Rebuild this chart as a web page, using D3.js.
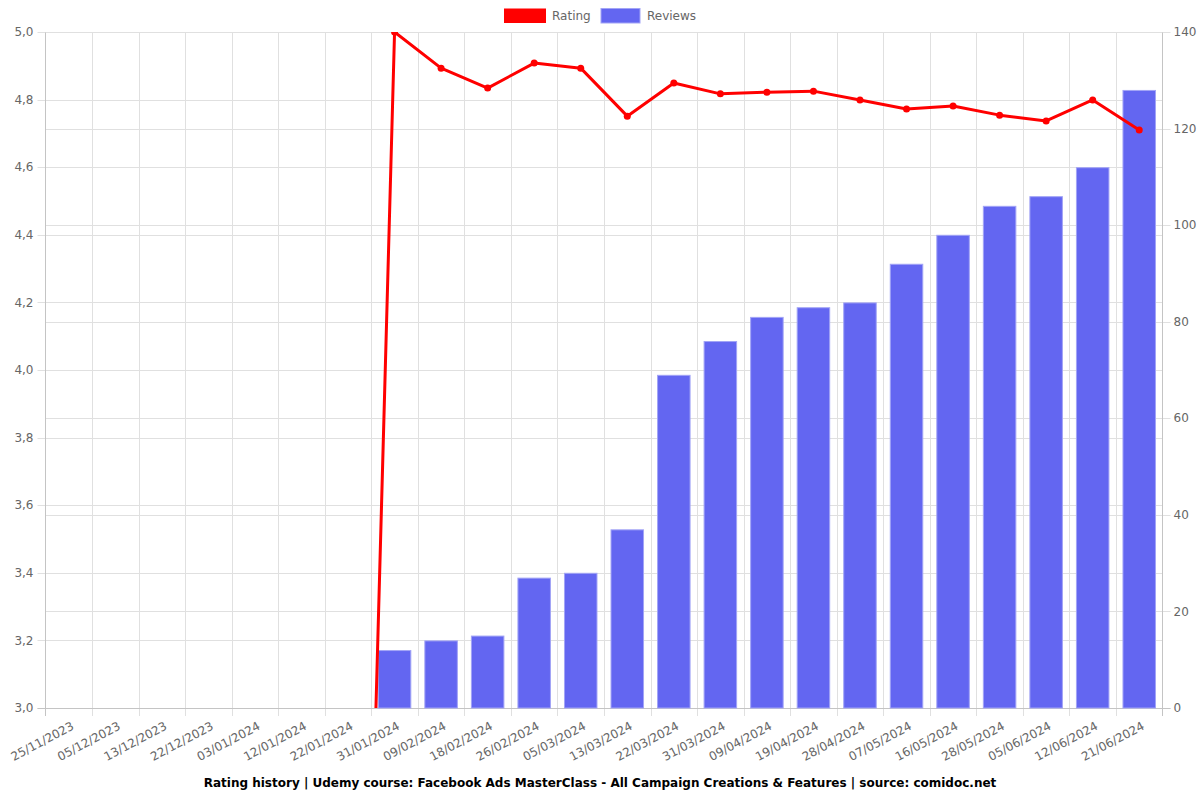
<!DOCTYPE html>
<html>
<head>
<meta charset="utf-8">
<script src="https://cdn.jsdelivr.net/npm/d3@7"></script>
<style>
  html, body { margin: 0; padding: 0; background: #fff; }
  svg { display: block; font-family: "DejaVu Sans", sans-serif; }
</style>
</head>
<body>
<svg id="chart" width="1200" height="800"></svg>
<script>
const categories = ["25/11/2023","05/12/2023","13/12/2023","22/12/2023","03/01/2024","12/01/2024","22/01/2024","31/01/2024","09/02/2024","18/02/2024","26/02/2024","05/03/2024","13/03/2024","22/03/2024","31/03/2024","09/04/2024","19/04/2024","28/04/2024","07/05/2024","16/05/2024","28/05/2024","05/06/2024","12/06/2024","21/06/2024"];
const ratings = [0,0,0,0,0,0,0,5.0,4.893,4.834,4.908,4.893,4.751,4.849,4.817,4.822,4.825,4.799,4.772,4.781,4.754,4.737,4.799,4.710];
const reviews = [0,0,0,0,0,0,0,12,14,15,27,28,37,69,76,81,83,84,92,98,104,106,112,128];
const leftTicks = [3.0,3.2,3.4,3.6,3.8,4.0,4.2,4.4,4.6,4.8,5.0];
const rightTicks = [0,20,40,60,80,100,120,140];
const titleText = "Rating history | Udemy course: Facebook Ads MasterClass - All Campaign Creations & Features | source: comidoc.net";

const svg = d3.select("#chart");
const L = 45.5, R = 1162.5, T = 32, B = 708;
const gridColor = "#e0e0e0", axisColor = "#c4c4c4", textColor = "#666";

const x = d3.scaleBand().domain(categories).range([L, R]).paddingInner(0).paddingOuter(0);
const yL = d3.scaleLinear().domain([3, 5]).range([B, T]);
const yR = d3.scaleLinear().domain([0, 140]).range([B, T]);

svg.append("defs").append("clipPath").attr("id", "plotclip")
  .append("rect").attr("x", L).attr("y", T).attr("width", R - L).attr("height", B - T);

// grid lines
const grid = svg.append("g");
const edges = categories.map(c => x(c)).concat([R]);
grid.selectAll("line.v").data(edges.slice(1, -1)).join("line")
  .attr("x1", d => Math.round(d) + 0.5).attr("x2", d => Math.round(d) + 0.5)
  .attr("y1", T).attr("y2", B + 8)
  .attr("stroke", gridColor);
grid.selectAll("line.hl").data(leftTicks).join("line")
  .attr("x1", L - 8).attr("x2", R)
  .attr("y1", d => Math.round(yL(d)) + 0.5).attr("y2", d => Math.round(yL(d)) + 0.5)
  .attr("stroke", gridColor);
grid.selectAll("line.hr").data(rightTicks).join("line")
  .attr("x1", L).attr("x2", R + 8)
  .attr("y1", d => Math.round(yR(d)) + 0.5).attr("y2", d => Math.round(yR(d)) + 0.5)
  .attr("stroke", gridColor);

// axes lines
svg.append("line").attr("x1", L).attr("x2", L).attr("y1", T).attr("y2", B + 8).attr("stroke", axisColor);
svg.append("line").attr("x1", R).attr("x2", R).attr("y1", T).attr("y2", B + 8).attr("stroke", axisColor);
svg.append("line").attr("x1", L - 8).attr("x2", R + 8).attr("y1", B + 0.5).attr("y2", B + 0.5).attr("stroke", axisColor);
svg.append("line").attr("x1", L).attr("x2", R).attr("y1", T + 0.5).attr("y2", T + 0.5).attr("stroke", gridColor);

const fmt = d3.format(".1f");
svg.append("g").selectAll("text").data(leftTicks).join("text")
  .attr("x", L - 12).attr("y", d => yL(d)).attr("dy", "0.35em")
  .attr("text-anchor", "end").attr("font-size", 12).attr("fill", textColor)
  .text(d => fmt(d).replace(".", ","));
svg.append("g").selectAll("text").data(rightTicks).join("text")
  .attr("x", R + 11).attr("y", d => yR(d)).attr("dy", "0.35em")
  .attr("text-anchor", "start").attr("font-size", 12).attr("fill", textColor)
  .text(d => d);
svg.append("g").selectAll("text").data(categories).join("text")
  .attr("transform", d => `translate(${x(d) + x.bandwidth() / 2 + 4},${B + 17}) rotate(-28)`)
  .attr("text-anchor", "end").attr("dy", "0.35em")
  .attr("font-size", 12).attr("fill", textColor)
  .text(d => d);

// bars
const bw = x.bandwidth() * 0.72;
svg.append("g").selectAll("rect").data(categories.map((c, i) => ({c, v: reviews[i]})).filter(d => d.v > 0)).join("rect")
  .attr("x", d => x(d.c) + (x.bandwidth() - bw) / 2 + 0.5)
  .attr("y", d => yR(d.v) + 0.5)
  .attr("width", bw - 1)
  .attr("height", d => yR(0) - yR(d.v) - 0.5)
  .attr("fill", "#6366f1")
  .attr("stroke", "#a2a4f6").attr("stroke-width", 1);

// rating line
const pts = categories.map((c, i) => ({c, v: ratings[i]}));
const line = d3.line().x(d => x(d.c) + x.bandwidth() / 2).y(d => yL(d.v));
const lg = svg.append("g").attr("clip-path", "url(#plotclip)");
lg.append("path").datum(pts).attr("d", line)
  .attr("fill", "none").attr("stroke", "#ff0000").attr("stroke-width", 3).attr("stroke-linejoin", "round");
lg.selectAll("circle").data(pts).join("circle")
  .attr("cx", d => x(d.c) + x.bandwidth() / 2).attr("cy", d => yL(d.v)).attr("r", 3.5)
  .attr("fill", "#ff0000");

// legend
const leg = svg.append("g");
leg.append("rect").attr("x", 504).attr("y", 8.5).attr("width", 42).attr("height", 14.5).attr("fill", "#ff0000");
leg.append("text").attr("x", 552).attr("y", 16).attr("dy", "0.35em").attr("font-size", 12).attr("fill", textColor).text("Rating");
leg.append("rect").attr("x", 601).attr("y", 8.5).attr("width", 39).attr("height", 14.5).attr("fill", "#6366f1").attr("stroke", "#a2a4f6");
leg.append("text").attr("x", 647).attr("y", 16).attr("dy", "0.35em").attr("font-size", 12).attr("fill", textColor).text("Reviews");

// title
svg.append("text").attr("x", 600).attr("y", 783).attr("dy", "0.35em").attr("text-anchor", "middle")
  .attr("font-size", 12).attr("font-weight", "bold").attr("fill", "#000").text(titleText);
</script>
</body>
</html>
